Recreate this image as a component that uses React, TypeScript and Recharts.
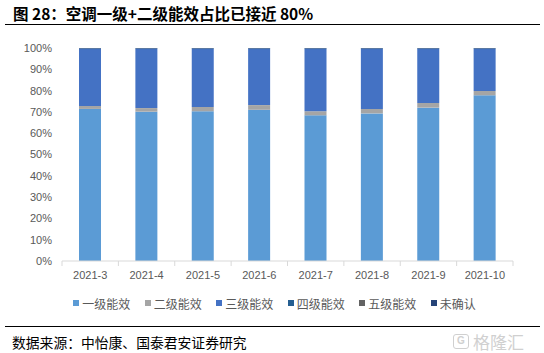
import React from 'react';
import { BarChart, Bar, XAxis, YAxis, Legend } from 'recharts';

const categories = ['2021-3', '2021-4', '2021-5', '2021-6', '2021-7', '2021-8', '2021-9', '2021-10'];
const level1 = [71.4, 70.1, 70.3, 71.0, 68.4, 69.3, 72.0, 77.8];
const level2 = [1.4, 1.7, 2.0, 2.2, 1.9, 2.1, 2.2, 2.0];
const level3 = [26.7, 27.7, 27.2, 26.3, 29.2, 28.1, 25.3, 19.7];
const level4 = [0.3, 0.3, 0.3, 0.3, 0.3, 0.3, 0.3, 0.3];
const level5 = [0.0, 0.0, 0.0, 0.0, 0.0, 0.0, 0.0, 0.0];
const unknown = [0.2, 0.2, 0.2, 0.2, 0.2, 0.2, 0.2, 0.2];
const yTicks = [0, 10, 20, 30, 40, 50, 60, 70, 80, 90, 100];

const series = [
  { key: 'l1', name: '一级能效', color: '#5B9BD5', values: level1 },
  { key: 'l2', name: '二级能效', color: '#A5A5A5', values: level2 },
  { key: 'l3', name: '三级能效', color: '#4472C4', values: level3 },
  { key: 'l4', name: '四级能效', color: '#255E91', values: level4 },
  { key: 'l5', name: '五级能效', color: '#636363', values: level5 },
  { key: 'u', name: '未确认', color: '#264478', values: unknown },
];

const data = categories.map((c, i) => {
  const row: any = { cat: c };
  series.forEach((s) => (row[s.key] = s.values[i]));
  return row;
});

const W = 544;
const H = 315;
const LEFT = 62;
const RIGHT = 31;
const band = (W - LEFT - RIGHT) / categories.length;

const XTick = (props: any) => {
  const { x, y, payload, index } = props;
  const last = index === categories.length - 1;
  return (
    <g>
      <line x1={x - band / 2} x2={x - band / 2} y1={y - 8} y2={y - 3} stroke="#D9D9D9" />
      {last && <line x1={x + band / 2} x2={x + band / 2} y1={y - 8} y2={y - 3} stroke="#D9D9D9" />}
      <text x={x} y={y + 10} textAnchor="middle" fill="#595959" fontSize={11} fontFamily="Liberation Sans, Arial, sans-serif">
        {payload.value}
      </text>
    </g>
  );
};

const LegendContent = () => (
  <div style={{ display: 'flex', justifyContent: 'center', alignItems: 'center', height: 24, paddingLeft: 36, fontFamily: '"Noto Sans CJK SC", sans-serif', fontSize: 12, color: '#595959' }}>
    {series.map((s, i) => (
      <div key={s.key} style={{ display: 'flex', alignItems: 'center', marginRight: i === series.length - 1 ? 0 : 14.5 }}>
        <span style={{ display: 'inline-block', width: 6, height: 6, background: s.color, marginRight: 3 }} />
        <span>{s.name}</span>
      </div>
    ))}
  </div>
);

export default function App() {
  return (
    <div style={{ position: 'absolute', left: 0, top: 0, width: W, height: 353, background: '#fff', overflow: 'hidden' }}>
      <div style={{ position: 'absolute', left: 13, top: 3, fontFamily: '"Noto Sans CJK SC", sans-serif', fontWeight: 700, fontSize: 15.5, color: '#000', lineHeight: '20px', whiteSpace: 'nowrap' }}>
        图 28：空调一级+二级能效占比已接近 80%
      </div>
      <div style={{ position: 'absolute', left: 5, top: 24, width: 535, height: 1, background: '#000' }} />
      <div style={{ position: 'absolute', left: 0, top: 0 }}>
        <BarChart width={W} height={H} data={data} margin={{ top: 48, right: RIGHT, left: 0, bottom: 0 }} barSize={22}>
          <XAxis dataKey="cat" height={30} axisLine={{ stroke: '#D9D9D9' }} tickLine={false} tick={<XTick />} interval={0} />
          <YAxis
            width={LEFT}
            domain={[0, 100]}
            ticks={yTicks}
            axisLine={false}
            tickLine={false}
            tickFormatter={(v: number) => `${v}%`}
            tick={{ fill: '#595959', fontSize: 11, fontFamily: 'Liberation Sans, Arial, sans-serif' }}
            tickMargin={4}
          />
          <Legend verticalAlign="bottom" height={24} content={<LegendContent />} />
          {series.map((s) => (
            <Bar key={s.key} dataKey={s.key} name={s.name} stackId="a" fill={s.color} isAnimationActive={false} />
          ))}
        </BarChart>
      </div>
      <div style={{ position: 'absolute', left: 5, top: 326, width: 535, height: 1, background: '#000' }} />
      <div style={{ position: 'absolute', left: 12, top: 333, fontFamily: '"Noto Sans CJK SC", sans-serif', fontSize: 13.8, color: '#000', lineHeight: '18px', whiteSpace: 'nowrap' }}>
        数据来源：中怡康、国泰君安证券研究
      </div>
      <div style={{ position: 'absolute', left: 453, top: 334, width: 16, height: 15, border: '1.5px solid #D0D0D0', borderRadius: 3, boxSizing: 'border-box', color: '#D0D0D0', fontFamily: 'Liberation Sans, sans-serif', fontWeight: 700, fontSize: 10, lineHeight: '12px', textAlign: 'center' }}>
        G
      </div>
      <div style={{ position: 'absolute', left: 473, top: 332, fontFamily: '"Noto Sans CJK SC", sans-serif', fontSize: 17, color: '#D0D0D0', lineHeight: '20px', whiteSpace: 'nowrap' }}>
        格隆汇
      </div>
    </div>
  );
}
